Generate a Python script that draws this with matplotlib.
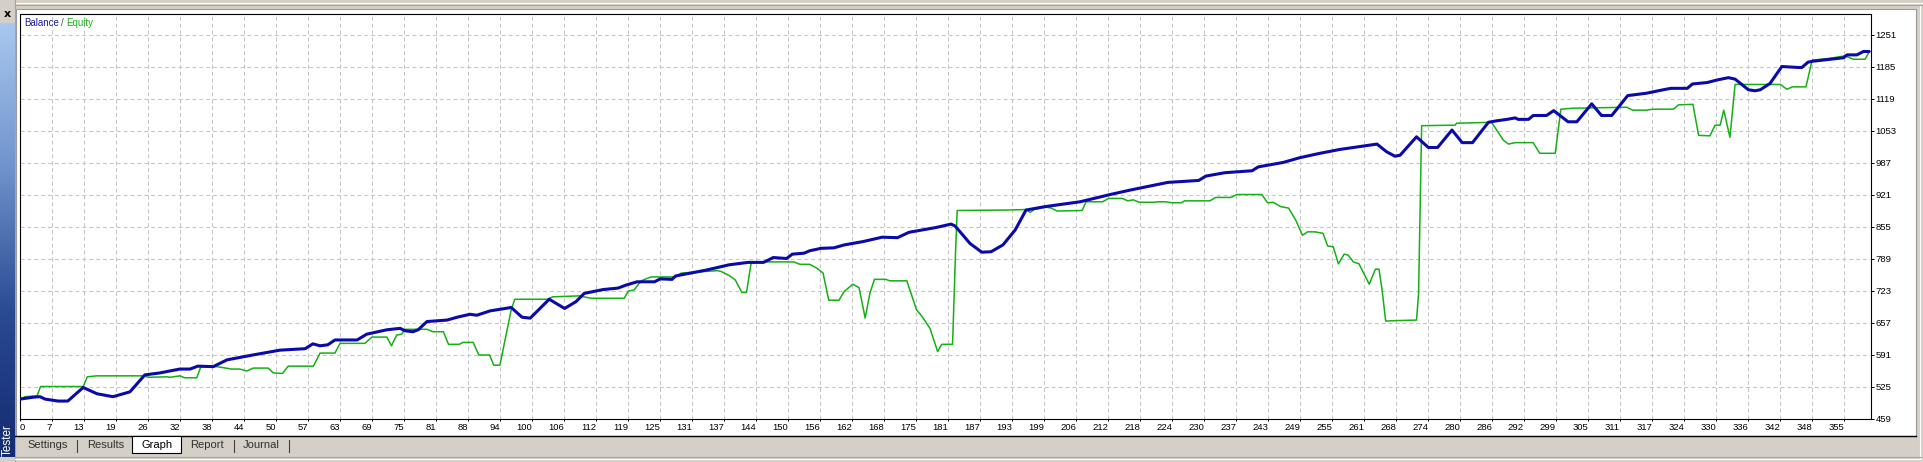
import matplotlib
matplotlib.use("Agg")
import matplotlib.pyplot as plt
import numpy as np
from matplotlib.patches import Rectangle
from matplotlib.lines import Line2D
from matplotlib.colors import LinearSegmentedColormap

plt.rcParams['font.family'] = ['Liberation Sans', 'DejaVu Sans']
SANS = ['Liberation Sans', 'DejaVu Sans']

# ---------------- data (trade index, value) ----------------
balance_points = [
    (0, 500), (2.6, 504), (3.9, 505), (4.9, 500), (7.4, 496), (9.3, 496), (12.3, 524), (15.0, 511),
    (18.1, 505), (21.4, 515), (24.3, 550), (27.2, 554), (31.1, 562), (33.1, 562), (34.6, 568),
    (37.6, 567), (40.3, 581), (45.3, 591), (50.6, 601), (55.5, 604), (57.0, 614), (58.4, 610),
    (59.9, 612), (61.3, 622), (65.6, 622), (67.5, 634), (71.4, 643), (74.0, 646), (74.9, 641),
    (76.5, 639), (77.5, 643), (79.2, 660), (83.1, 663), (85.1, 669), (87.6, 675), (88.9, 673),
    (91.5, 682), (95.6, 689), (97.7, 669), (99.3, 667), (103.0, 706), (106.0, 687), (108.2, 701),
    (109.8, 718), (113.5, 726), (116.4, 729), (117.9, 735), (120.1, 742), (123.5, 742), (124.6, 748),
    (126.9, 747), (127.6, 754), (133.5, 766), (138.0, 777), (141.7, 782), (144.7, 782), (146.6, 792),
    (149.2, 790), (150.3, 799), (152.6, 801), (153.7, 806), (155.9, 811), (158.4, 812), (160.4, 818),
    (164.1, 825), (167.8, 834), (170.8, 833), (173.0, 844), (178.3, 854), (181.2, 861), (182.0, 857),
    (184.9, 821), (187.2, 803), (189.0, 804), (191.3, 818), (193.7, 849), (195.8, 890), (199.5, 897),
    (206.3, 907), (212.2, 922), (216.0, 931), (223.4, 947), (229.4, 951), (230.8, 960), (234.5, 967),
    (239.8, 971), (241.0, 979), (245.8, 988), (249.1, 998), (253.0, 1007), (256.9, 1015),
    (260.8, 1021), (264.1, 1026), (266.0, 1010), (267.6, 1001), (268.6, 1003), (271.8, 1041),
    (274.1, 1019), (275.9, 1019), (278.7, 1055), (280.7, 1029), (282.7, 1029), (285.8, 1071),
    (287.4, 1074), (289.4, 1077), (291.0, 1080), (291.6, 1077), (293.6, 1077), (294.5, 1085),
    (297.1, 1085), (298.5, 1095), (301.3, 1072), (303.0, 1072), (305.9, 1109), (307.8, 1085),
    (309.8, 1085), (312.9, 1126), (316.6, 1131), (319.8, 1138), (321.3, 1141), (324.5, 1141),
    (325.5, 1150), (328.4, 1153), (330.2, 1158), (332.5, 1163), (333.8, 1160), (336.4, 1138),
    (337.7, 1136), (338.7, 1138), (340.6, 1151), (342.9, 1186), (346.1, 1184), (346.8, 1184),
    (348.0, 1195), (349.0, 1197), (352.3, 1201), (354.9, 1204), (355.6, 1210), (357.5, 1210),
    (358.8, 1217), (359.9, 1217),
]

equity_points = [
    (0, 500), (1.0, 505), (2.3, 506), (3.3, 506), (4.0, 526), (12.3, 526), (13.1, 546), (14.9, 548),
    (24.0, 548), (25.0, 545), (28.6, 546), (29.2, 545), (31.1, 548), (32.1, 544), (34.4, 544),
    (35.2, 567), (38.3, 567), (41.2, 562), (42.8, 562), (44.1, 558), (45.4, 564), (48.3, 564),
    (49.3, 554), (51.1, 553), (52.2, 568), (57.1, 568), (58.4, 595), (61.3, 595), (62.3, 615),
    (67.1, 615), (68.5, 628), (71.4, 628), (72.3, 610), (73.3, 632), (74.3, 634), (74.9, 644),
    (79.2, 644), (80.4, 639), (82.4, 639), (83.4, 613), (85.5, 613), (86.2, 617), (88.2, 617),
    (89.3, 591), (91.4, 591), (92.2, 570), (93.4, 570), (95.6, 684), (96.3, 706), (102.6, 706),
    (103.7, 711), (109.0, 713), (109.7, 711), (111.2, 708), (117.6, 708), (118.4, 723), (119.5, 725),
    (120.9, 744), (122.8, 752), (127.6, 752), (128.7, 760), (135.8, 765), (136.5, 763), (138.0, 755),
    (139.2, 746), (140.5, 720), (141.4, 720), (142.3, 781), (143.6, 783), (150.6, 783), (151.8, 778),
    (153.7, 778), (155.1, 770), (156.3, 760), (157.4, 704), (159.4, 704), (160.4, 722), (162.1, 737),
    (163.3, 730), (164.5, 667), (165.4, 718), (166.3, 747), (168.5, 747), (169.3, 744), (172.6, 744),
    (174.5, 684), (175.6, 670), (177.1, 646), (178.6, 598), (179.4, 613), (181.5, 613), (182.1, 808),
    (182.4, 889), (192.1, 890), (195.9, 891), (196.6, 885), (197.4, 891), (199.6, 896), (200.7, 894),
    (201.8, 888), (206.7, 889), (207.5, 907), (210.7, 907), (211.9, 914), (214.5, 914), (215.6, 909),
    (216.7, 911), (217.8, 906), (220.8, 906), (221.5, 907), (223.0, 907), (224.1, 905), (226.0, 905),
    (226.7, 909), (231.6, 909), (232.7, 916), (235.7, 916), (236.8, 922), (241.7, 922), (242.8, 905),
    (243.9, 906), (245.4, 897), (246.9, 894), (248.3, 869), (249.6, 838), (250.6, 845), (252.0, 845),
    (253.6, 842), (254.5, 816), (255.6, 814), (256.6, 779), (257.7, 799), (258.5, 797), (259.5, 783),
    (260.6, 779), (262.6, 737), (263.8, 768), (264.5, 768), (265.1, 725), (265.8, 661), (268.1, 662),
    (271.8, 663), (272.2, 718), (272.6, 945), (272.8, 1064), (279.3, 1065), (279.6, 1069),
    (286.4, 1071), (287.4, 1055), (288.7, 1034), (289.7, 1026), (291.0, 1029), (294.5, 1029),
    (295.8, 1007), (298.8, 1007), (299.9, 1098), (302.3, 1100), (312.7, 1102), (313.9, 1096),
    (316.5, 1096), (317.9, 1098), (321.8, 1098), (322.8, 1107), (325.6, 1108), (326.7, 1044),
    (328.9, 1043), (329.9, 1065), (330.9, 1065), (331.6, 1096), (332.8, 1040), (333.8, 1149),
    (342.6, 1149), (343.9, 1139), (344.9, 1144), (347.6, 1144), (348.8, 1199), (352.3, 1203),
    (355.2, 1208), (356.8, 1201), (359.1, 1201), (359.9, 1216),
]

x_tick_labels = [0, 7, 13, 19, 26, 32, 38, 44, 50, 57, 63, 69, 75, 81, 88, 94, 100, 106, 112, 119,
                 125, 131, 137, 144, 150, 156, 162, 168, 175, 181, 187, 193, 199, 206, 212, 218, 224,
                 230, 237, 243, 249, 255, 261, 268, 274, 280, 286, 292, 299, 305, 311, 317, 324, 330,
                 336, 342, 348, 355]
y_tick_values = [459, 525, 591, 657, 723, 789, 855, 921, 987, 1053, 1119, 1185, 1251]

tab_labels = ["Settings", "Results", "Graph", "Report", "Journal"]

# ---------------- figure ----------------
W, H = 1923, 462
fig = plt.figure(figsize=(W / 100, H / 100), dpi=100, facecolor='#D4D0C8')


def fx(p):
    return p / W


def fy(p):
    return 1 - p / H


def hline(x0, x1, y, color, lw=0.8, z=-5):
    fig.add_artist(Line2D([fx(x0), fx(x1)], [fy(y)] * 2, color=color, lw=lw,
                          transform=fig.transFigure, zorder=z))


def vline(x, y0, y1, color, lw=0.8, z=-5):
    fig.add_artist(Line2D([fx(x)] * 2, [fy(y0), fy(y1)], color=color, lw=lw,
                          transform=fig.transFigure, zorder=z))


# window chrome (drawn below the axes)
hline(15, 1923, 3, 'white')
hline(15, 1923, 4.5, '#A8A59C')
vline(15, 0, 462, '#A8A59C')
fig.add_artist(Rectangle((fx(16), fy(436)), fx(1916) - fx(16), fy(9) - fy(436),
                         transform=fig.transFigure, facecolor='white', edgecolor='#9C9A94',
                         lw=0.8, zorder=-10))
vline(1919.5, 6, 458, 'white')
hline(15, 1921, 457, '#A8A59C')
hline(15, 1921, 459, 'white')

# left "Tester" bar
axb = fig.add_axes([0, fy(457), fx(14.5), fy(23) - fy(457)])
cmap = LinearSegmentedColormap.from_list('bar', ['#A9C8EF', '#6F93CC', '#2A4A92', '#142B70'])
axb.imshow(np.linspace(0, 1, 256).reshape(-1, 1), aspect='auto', cmap=cmap, extent=[0, 1, 0, 1])
axb.axis('off')
fig.text(fx(7.5), fy(440), 'Tester', rotation=90, color='white', fontsize=8.5, ha='center',
         va='center', family=SANS)
fig.text(fx(7), fy(14), 'x', color='black', fontsize=8, fontweight='bold', ha='center', va='center',
         family=['DejaVu Sans'])

# main chart
ax = fig.add_axes([fx(20), fy(419), fx(1871) - fx(20), fy(14) - fy(419)])
ax.set_facecolor('white')
ex = [p[0] for p in equity_points]
ey = [p[1] for p in equity_points]
bx = [p[0] for p in balance_points]
by = [p[1] for p in balance_points]
ax.plot(ex, ey, color='#14B014', lw=1.1, zorder=3)
ax.plot(bx, by, color='#0A0AAA', lw=2.2, zorder=4, solid_joinstyle='round', solid_capstyle='round')

x_step = 355 / 57
ax.set_xlim(0, 1851 / 32 * x_step)
ax.set_ylim(459, 459 + 405 / 32 * 66)

ax.set_xticks([k * x_step for k in range(len(x_tick_labels))])
ax.set_xticklabels([str(v) for v in x_tick_labels])
ax.set_yticks(y_tick_values)
ax.set_yticklabels([str(v) for v in y_tick_values])
ax.yaxis.tick_right()
ax.tick_params(axis='x', direction='out', length=1.6, width=0.7, pad=1.4, labelsize=6.8)
ax.tick_params(axis='y', direction='out', length=2.2, width=0.7, pad=1.2, labelsize=6.8)
labs = ax.get_xticklabels()
for i, lab in enumerate(labs):
    lab.set_ha('left' if i == 0 else 'right')

ax.grid(True, color='#C6C6C6', lw=0.75, linestyle=(0, (3.8, 2.8)))
ax.set_axisbelow(True)
for s in ax.spines.values():
    s.set_linewidth(0.8)
    s.set_color('black')

# legend text
fig.text(fx(24), fy(23), 'Balance', color='#1A1AA6', fontsize=7, va='center', ha='left')
fig.text(fx(61), fy(23), '/', color='#505050', fontsize=7, va='center', ha='left')
fig.text(fx(66), fy(23), 'Equity', color='#1CB01C', fontsize=7, va='center', ha='left')

# tabs
hline(15, 1916, 436, 'black', lw=1, z=1)
fig.add_artist(Rectangle((fx(132), fy(453)), fx(181) - fx(132), fy(436) - fy(453),
                         transform=fig.transFigure, facecolor='white', edgecolor='black', lw=0.8,
                         zorder=2))
tab_x = [27, 87, 142, 190, 243]
for lbl, x in zip(tab_labels, tab_x):
    fig.text(fx(x), fy(445), lbl, fontsize=8, ha='left', va='center', family=SANS,
             color='black' if lbl == 'Graph' else '#303030', zorder=3)
for x in [77, 234, 289]:
    vline(x, 440, 452, '#404040', z=1)

fig.savefig('out.png', dpi=100, facecolor=fig.get_facecolor())
